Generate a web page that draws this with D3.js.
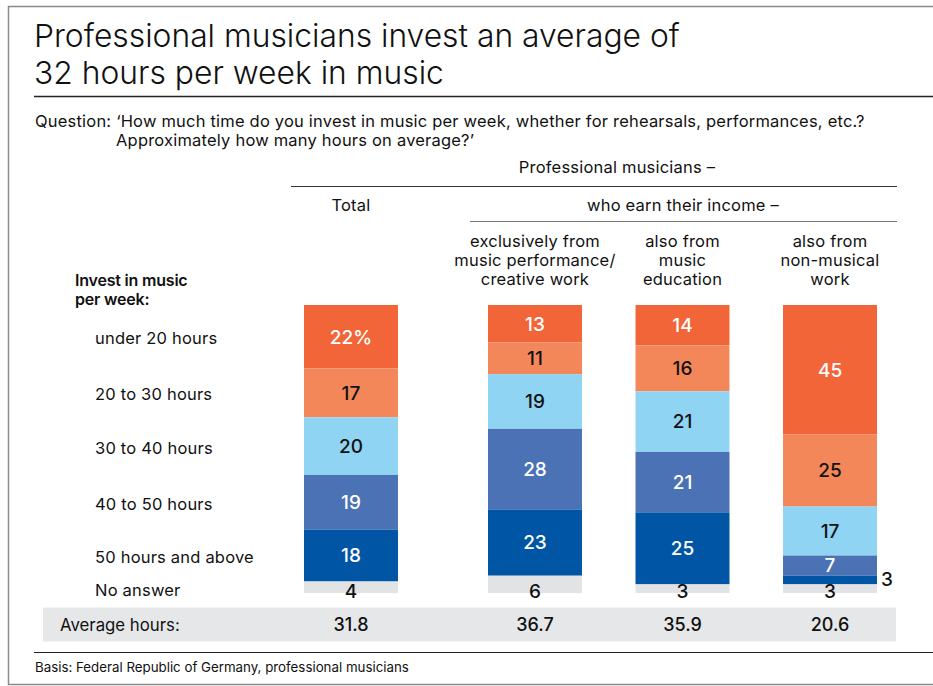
<!DOCTYPE html>
<html>
<head>
<meta charset="utf-8">
<script src="https://cdn.jsdelivr.net/npm/d3@7"></script>
<style>
  html, body { margin: 0; padding: 0; background: #fff; }
  svg { display: block; font-family: Inter, "Liberation Sans", Arial, sans-serif; }
</style>
</head>
<body>
<svg id="chart" width="933" height="686"></svg>
<script>
// ---------- DATA ----------
const categories = ["under 20 hours", "20 to 30 hours", "30 to 40 hours", "40 to 50 hours", "50 hours and above", "No answer"];
const columns = ["Total", "exclusively", "education", "nonmusical"];
const columnHeaders = [
  [],
  ["exclusively from", "music performance/", "creative work"],
  ["also from", "music", "education"],
  ["also from", "non-musical", "work"]
];
const totalValues       = [22, 17, 20, 19, 18, 4];
const exclusivelyValues = [13, 11, 19, 28, 23, 6];
const educationValues   = [14, 16, 21, 21, 25, 3];
const nonMusicalValues  = [45, 25, 17, 7, 3, 3];
const averageHours = ["31.8", "36.7", "35.9", "20.6"];
const seriesValues = [totalValues, exclusivelyValues, educationValues, nonMusicalValues];

const colors = ["#F26539", "#F4875A", "#8FD4F3", "#4A72B5", "#0055A4", "#E2E3E5"];
const labelColors = ["#fff", "#111", "#111", "#fff", "#fff", "#111"];

// ---------- SETUP ----------
const svg = d3.select("#chart");
const W = 933, H = 686;
const BODY = 16.5, LS = "0.2px";

// frame
svg.append("path").attr("d", `M${W+2},6.5 H8.5 V684.5 H${W+2}`)
  .attr("fill", "none").attr("stroke", "#8a8a8a").attr("stroke-width", 1.5);

// title
svg.append("text").attr("x", 34).attr("y", 47).attr("font-size", 31.8).attr("fill", "#111")
  .attr("font-weight", 300).text("Professional musicians invest an average of");
svg.append("text").attr("x", 34).attr("y", 84).attr("font-size", 31.8).attr("fill", "#111")
  .attr("font-weight", 300).text("32 hours per week in music");

svg.append("line").attr("x1", 34).attr("x2", W).attr("y1", 96.5).attr("y2", 96.5)
  .attr("stroke", "#222").attr("stroke-width", 1.3);

// question
svg.append("text").attr("x", 35).attr("y", 127).attr("font-size", BODY).attr("fill", "#111")
  .style("letter-spacing", LS)
  .text("Question: \u2018How much time do you invest in music per week, whether for rehearsals, performances, etc.?");
svg.append("text").attr("x", 116).attr("y", 146).attr("font-size", BODY).attr("fill", "#111")
  .style("letter-spacing", LS)
  .text("Approximately how many hours on average?\u2019");

// ---------- SCALES ----------
const y = d3.scaleLinear().domain([0, 100]).range([305, 593]);
const xTotal = d3.scaleBand().domain(columns.slice(0, 1)).range([304, 398]);
const xSub = d3.scaleBand().domain(columns.slice(1)).range([488, 877]).paddingInner(0.363).paddingOuter(0);
const xCol = c => c === "Total" ? xTotal(c) : xSub(c);
const bw = xSub.bandwidth();
const cx = c => xCol(c) + bw / 2;

// ---------- HEADERS ----------
const hdr = svg.append("g").attr("font-size", BODY).attr("fill", "#111").attr("text-anchor", "middle")
  .style("letter-spacing", LS);
hdr.append("text").attr("x", 617).attr("y", 173).text("Professional musicians \u2013");
svg.append("line").attr("x1", 291).attr("x2", 897).attr("y1", 186.5).attr("y2", 186.5)
  .attr("stroke", "#333").attr("stroke-width", 1.2);
hdr.append("text").attr("x", cx("Total")).attr("y", 211).text("Total");
hdr.append("text").attr("x", 683).attr("y", 211).text("who earn their income \u2013");
svg.append("line").attr("x1", 470).attr("x2", 897).attr("y1", 221.5).attr("y2", 221.5)
  .attr("stroke", "#777").attr("stroke-width", 1.2);

columns.forEach((c, i) => {
  columnHeaders[i].forEach((line, j) => {
    hdr.append("text").attr("x", cx(c)).attr("y", 247 + j * 19).text(line);
  });
});

// row header
const rh = svg.append("text").attr("font-size", 16).attr("font-weight", 600).attr("fill", "#111")
  .style("letter-spacing", "-0.2px");
rh.append("tspan").attr("x", 75).attr("y", 286).text("Invest in music");
rh.append("tspan").attr("x", 75).attr("y", 305).text("per week:");

// ---------- BARS ----------
const stacked = columns.map((c, ci) => {
  let acc = 0;
  return seriesValues[ci].map((v, k) => {
    const d = { col: c, cat: k, value: v, y0: acc, y1: acc + v };
    acc += v;
    return d;
  });
});

// row labels aligned to the Total bar segments
const rowLabels = svg.append("g").attr("font-size", BODY).attr("fill", "#111").style("letter-spacing", LS);
stacked[0].forEach((d, k) => {
  const mid = (y(d.y0) + y(d.y1)) / 2;
  const yy = k === categories.length - 1 ? y(d.y1) - 3 : mid + 1.5;
  rowLabels.append("text").attr("x", 95).attr("y", yy).attr("dy", "0.36em").text(categories[k]);
});

const bars = svg.append("g");
stacked.forEach(col => {
  bars.selectAll(null).data(col).enter().append("rect")
    .attr("x", d => xCol(d.col))
    .attr("y", d => y(d.y0))
    .attr("width", bw)
    .attr("height", d => y(d.y1) - y(d.y0))
    .attr("fill", d => colors[d.cat]);
});

// bar labels
const lbl = svg.append("g").attr("font-size", 19).attr("font-weight", 500).attr("text-anchor", "middle");
stacked.forEach((col, ci) => {
  col.forEach(d => {
    const mid = (y(d.y0) + y(d.y1)) / 2;
    let xx = cx(d.col), yy = mid, anchor = "middle";
    const last = d.cat === categories.length - 1;
    if (last) {
      yy = Math.max(mid, y(d.y1) - 2);
    } else if (d.value < 5) {
      xx = xCol(d.col) + bw + 4; anchor = "start"; yy = mid - 1;
    }
    lbl.append("text")
      .attr("x", xx).attr("y", yy).attr("dy", "0.36em")
      .attr("text-anchor", anchor)
      .attr("fill", (d.value < 5 && !last) ? "#111" : labelColors[d.cat])
      .text(ci === 0 && d.cat === 0 ? d.value + "%" : d.value);
  });
});

// ---------- AVERAGE ROW ----------
svg.append("rect").attr("x", 43).attr("y", 607.5).attr("width", 853).attr("height", 34).attr("fill", "#E6E7E8");
svg.append("text").attr("x", 60).attr("y", 624.5).attr("dy", "0.36em").attr("font-size", 16.8).attr("fill", "#111")
  .text("Average hours:");
svg.append("g").selectAll("text").data(averageHours).enter().append("text")
  .attr("x", (d, i) => cx(columns[i]))
  .attr("y", 624.5).attr("dy", "0.36em")
  .attr("text-anchor", "middle").attr("font-size", 18).attr("font-weight", 500).attr("fill", "#111")
  .text(d => d);

// ---------- FOOTER ----------
svg.append("line").attr("x1", 34).attr("x2", W).attr("y1", 652.5).attr("y2", 652.5)
  .attr("stroke", "#222").attr("stroke-width", 1.2);
svg.append("text").attr("x", 35).attr("y", 672).attr("font-size", 13.3).attr("fill", "#111")
  .text("Basis: Federal Republic of Germany, professional musicians");
</script>
</body>
</html>
